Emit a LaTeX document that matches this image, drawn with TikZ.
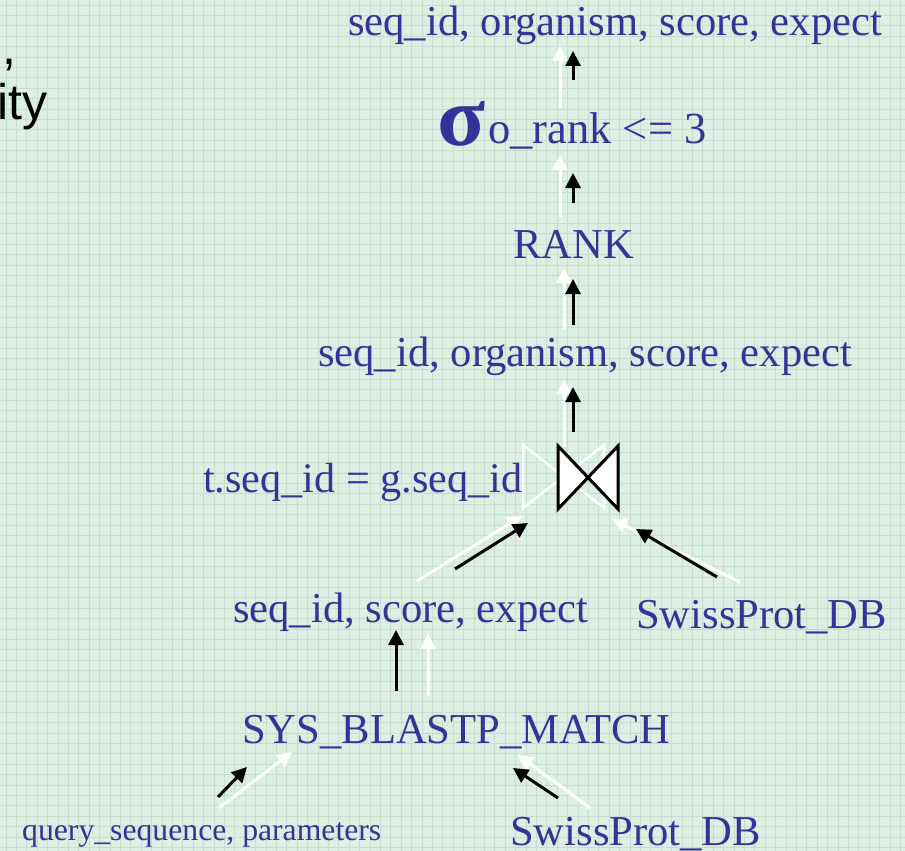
\documentclass[tikz,border=0pt]{standalone}
\usepackage{fontspec}
\setmainfont{Liberation Serif}
\newfontfamily\slidesans{Liberation Sans}
\usetikzlibrary{arrows.meta}
\definecolor{bgc}{RGB}{221,238,227}
\definecolor{gridc}{RGB}{197,223,207}
\definecolor{txtc}{RGB}{51,51,153}
\tikzset{
  lbl/.style={anchor=base west, inner sep=0pt, text=txtc, font=\fontsize{42.6}{50}\selectfont},
  smalllbl/.style={lbl, font=\fontsize{31.7}{38}\selectfont},
  fwd/.style={draw=black, line width=3pt, -{Triangle[width=15pt,length=15pt]}},
  ghost/.style={draw=white, line width=3pt, -{Triangle[width=15pt,length=15pt]}},
  gridline/.style={draw=gridc, line width=0.8pt},
  slidetext/.style={anchor=base west, inner sep=0pt, font=\slidesans\fontsize{50}{58}\selectfont},
}
\begin{document}
\begin{tikzpicture}[x=1pt,y=-1pt]
\useasboundingbox (0,0) rectangle (905,851);
\clip (0,0) rectangle (905,851);
% graph-paper background
\fill[bgc] (0,0) rectangle (905,851);
\foreach \i in {0,...,87} { \draw[gridline] ({6+10.4*\i},0) -- ({6+10.4*\i},851); }
\foreach \j in {0,...,81} { \draw[gridline] (0,{5+10.4*\j}) -- (905,{5+10.4*\j}); }

% tail of the slide's bullet text
\node[slidetext] (fragA) at (2,65) {,};
\node[slidetext] (fragB) at (-3,119) {ity};

% arrow end points
\coordinate (g1s) at (560,108); \coordinate (g1e) at (560,46);
\coordinate (f1s) at (573,80);  \coordinate (f1e) at (573,51);
\coordinate (g2s) at (560,217); \coordinate (g2e) at (560,155);
\coordinate (f2s) at (573,203); \coordinate (f2e) at (573,173);
\coordinate (g3s) at (564,329); \coordinate (g3e) at (564,268);
\coordinate (f3s) at (573,325); \coordinate (f3e) at (573,279);
\coordinate (g4s) at (564,447); \coordinate (g4e) at (564,379);
\coordinate (f4s) at (573,432); \coordinate (f4e) at (573,387);
\coordinate (g5s) at (417,581); \coordinate (g5e) at (522,516);
\coordinate (f5s) at (455,569); \coordinate (f5e) at (528,523);
\coordinate (g6s) at (740,582); \coordinate (g6e) at (612,519);
\coordinate (f6s) at (717,577); \coordinate (f6e) at (636,529);
\coordinate (g7s) at (428,696); \coordinate (g7e) at (428,634);
\coordinate (f7s) at (396,691); \coordinate (f7e) at (396,630);
\coordinate (g8s) at (219,808); \coordinate (g8e) at (292,752);
\coordinate (f8s) at (218,797); \coordinate (f8e) at (247,767);
\coordinate (g9s) at (590,808); \coordinate (g9e) at (518,755);
\coordinate (f9s) at (558,798); \coordinate (f9e) at (513,768);

% white outlines
\draw[draw=white, line width=2.5pt, line join=miter]
  (523,445) -- (604,508) -- (604,445) -- (523,508) -- cycle;
\foreach \k in {1,...,9} { \draw[ghost] (g\k s) -- (g\k e); }

% plan labels
\node[lbl] (out) at (348,36) {seq\_id, organism, score, expect};
\node[anchor=base west, inner sep=0pt, text=txtc] (sigma) at (437,146) {\resizebox{48pt}{44pt}{\bfseries σ}};
\node[lbl, font=\fontsize{44.5}{52}\selectfont] (sel) at (488,143) {o\_rank <= 3};
\node[lbl] (rank) at (513,258) {RANK};
\node[lbl] (proj) at (318,366) {seq\_id, organism, score, expect};
\node[lbl, font=\fontsize{42.2}{50}\selectfont] (cond) at (203,492) {t.seq\_id = g.seq\_id};
\node[lbl] (blastout) at (233,622) {seq\_id, score, expect};
\node[lbl] (dbA) at (636,628) {SwissProt\_DB};
\node[lbl] (blast) at (242,743) {SYS\_BLASTP\_MATCH};
\node[smalllbl] (query) at (22,840) {query\_sequence, parameters};
\node[lbl] (dbB) at (510,845) {SwissProt\_DB};

% join symbol
\coordinate (join) at (588,477);
\draw[fill=white, draw=black, line width=3pt, line join=miter]
  (558,446) -- (618,509) -- (618,446) -- (558,509) -- cycle;

% black arrows
\foreach \k in {1,...,9} { \draw[fwd] (f\k s) -- (f\k e); }
\end{tikzpicture}
\end{document}
